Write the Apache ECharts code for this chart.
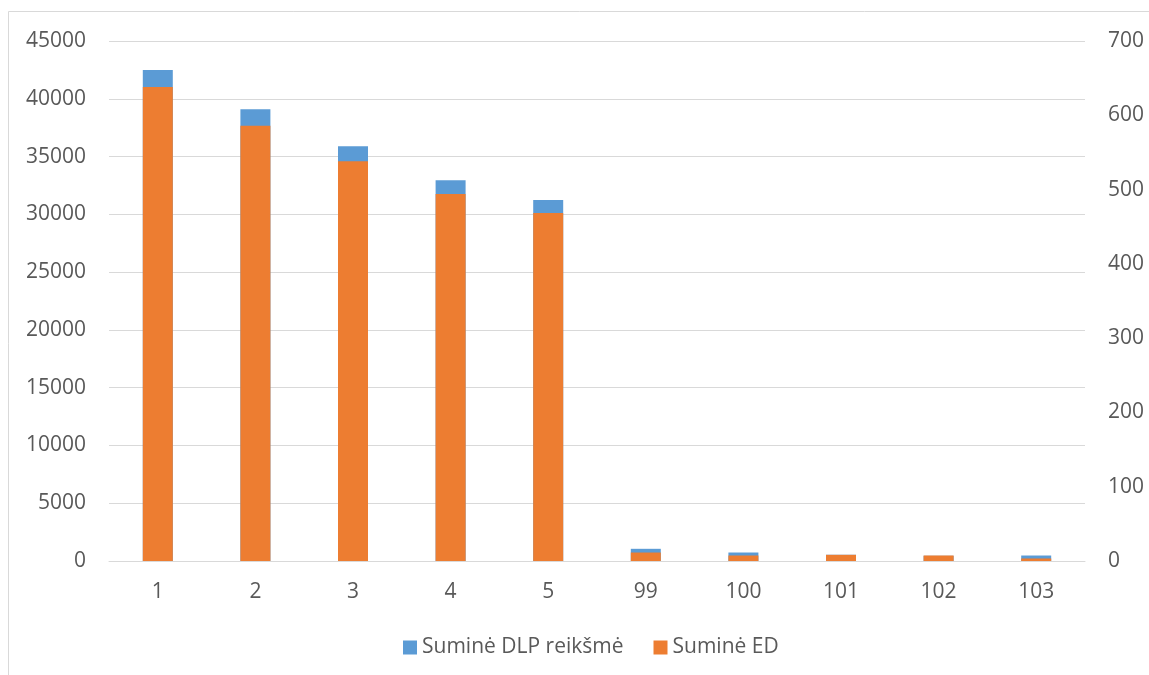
<!DOCTYPE html>
<html>
<head>
<meta charset="utf-8">
<script src="https://cdn.jsdelivr.net/npm/echarts@6/dist/echarts.min.js"></script>
<style>
html,body{margin:0;padding:0;background:#fff;}
#chart{width:1149px;height:675px;}
</style>
</head>
<body>
<div id="chart"></div>
<script>
const categories = ['1','2','3','4','5','99','100','101','102','103'];
const dlpValues = [42490, 39090, 35885, 32945, 31240, 1055, 735, 540, 450, 475];
const edValues = [638, 586, 538, 494, 468.5, 11.4, 7.4, 8.3, 7.4, 3.4];
const seriesNames = ['Suminė DLP reikšmė', 'Suminė ED'];

const FONT = 'Open Sans';
const TXT = '#595959';
const GRIDC = '#d9d9d9';
const FS = 21;

const chart = echarts.init(document.getElementById('chart'), null, {renderer:'canvas'});
chart.setOption({
  animation: false,
  backgroundColor: '#fff',
  textStyle: {fontFamily: FONT},
  graphic: [{
    type: 'rect',
    shape: {x: 8.5, y: 11.5, width: 1200, height: 700},
    style: {fill: 'none', stroke: GRIDC, lineWidth: 1},
    silent: true
  }],
  grid: {left: 109, right: 64, top: 41, bottom: 114, containLabel: false},
  legend: {
    bottom: 12,
    left: 398,
    padding: 5,
    itemWidth: 14,
    itemHeight: 14,
    itemGap: 30,
    icon: 'rect',
    textStyle: {color: TXT, fontSize: FS, fontFamily: FONT},
    data: seriesNames
  },
  xAxis: {
    type: 'category',
    data: categories,
    axisLine: {lineStyle: {color: GRIDC, width: 1}},
    axisTick: {show: false},
    axisLabel: {color: TXT, fontSize: FS, fontFamily: FONT, margin: 21}
  },
  yAxis: [{
    type: 'value', min: 0, max: 45000, interval: 5000,
    axisLine: {show: false}, axisTick: {show: false},
    splitLine: {lineStyle: {color: GRIDC, width: 1}},
    axisLabel: {color: TXT, fontSize: FS, fontFamily: FONT, margin: 23, formatter: v => String(v)}
  }, {
    type: 'value', min: 0, max: 700, interval: 100,
    axisLine: {show: false}, axisTick: {show: false},
    splitLine: {show: false},
    axisLabel: {color: TXT, fontSize: FS, fontFamily: FONT, margin: 23, formatter: v => String(v)}
  }],
  series: [{
    name: seriesNames[0],
    type: 'bar',
    yAxisIndex: 0,
    data: dlpValues,
    barWidth: 30,
    barGap: '-100%',
    itemStyle: {color: '#5B9BD5'}
  }, {
    name: seriesNames[1],
    type: 'bar',
    yAxisIndex: 1,
    data: edValues,
    barWidth: 30,
    barGap: '-100%',
    itemStyle: {color: '#ED7D31'}
  }]
});
</script>
</body>
</html>
